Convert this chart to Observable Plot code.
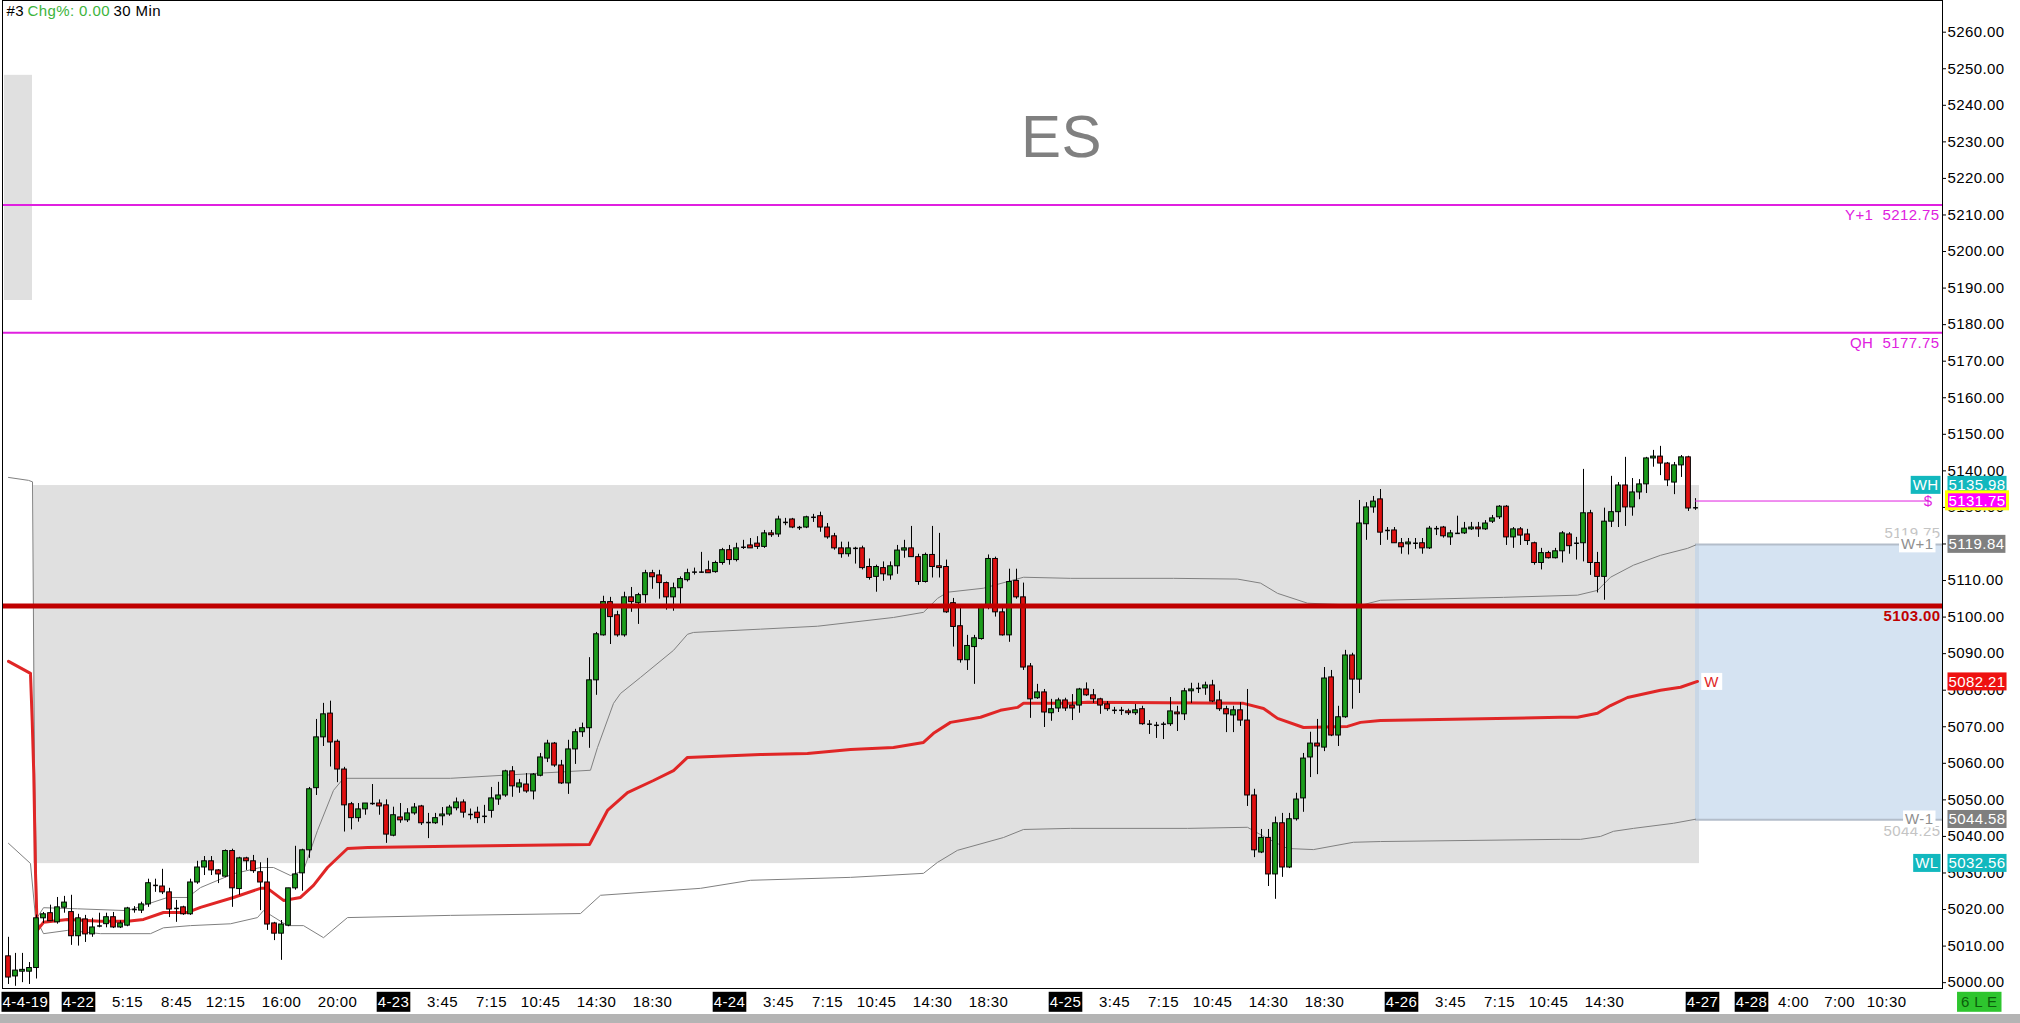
<!DOCTYPE html>
<html>
<head>
<meta charset="utf-8">
<script src="https://cdn.jsdelivr.net/npm/d3@7"></script>
<script src="https://cdn.jsdelivr.net/npm/@observablehq/plot@0.6"></script>
<style>
html, body { margin:0; padding:0; background:#fff; overflow:hidden; }
#chart svg { display:block; }
#chart svg text { letter-spacing: 0.4px; }
</style>
</head>
<body>
<div id="chart"></div>
<script>
// ---------------- DATA ----------------
const opens = [
5007.2,5001.7,5003.0,5003.0,5004.0,5017.6,5019.0,5016.5,5020.5,5019.3,
5012.7,5017.3,5013.2,5015.5,5016.0,5017.9,5015.1,5015.6,5020.0,5019.7,
5021.4,5026.6,5026.3,5024.7,5020.3,5020.6,5018.7,5027.4,5031.5,5033.2,
5030.7,5029.0,5036.0,5025.6,5034.0,5033.2,5030.2,5027.4,5016.2,5013.4,
5015.6,5025.8,5029.9,5036.2,5053.2,5067.1,5073.6,5065.9,5058.3,5048.8,
5045.0,5047.4,5049.0,5049.0,5048.5,5040.2,5045.2,5044.4,5046.3,5048.2,
5043.8,5043.6,5045.5,5046.0,5047.7,5049.3,5046.0,5046.5,5045.5,5047.0,
5050.1,5051.2,5057.8,5053.4,5054.2,5052.3,5056.6,5061.3,5065.4,5059.4,
5054.5,5063.8,5068.5,5069.6,5082.7,5095.0,5104.1,5100.5,5095.0,5105.4,
5103.8,5106.0,5112.0,5111.4,5109.3,5105.4,5107.9,5110.1,5112.3,5112.3,
5112.8,5112.3,5114.8,5118.3,5115.6,5118.8,5119.6,5120.1,5119.2,5122.9,
5122.6,5125.9,5126.7,5124.5,5124.5,5127.3,5127.6,5124.5,5122.1,5118.8,
5117.2,5118.8,5118.8,5113.7,5111.0,5113.4,5111.4,5113.9,5118.2,5118.8,
5116.4,5109.6,5117.0,5113.9,5113.7,5103.8,5097.5,5088.2,5091.8,5094.0,
5102.7,5115.9,5101.3,5095.0,5109.9,5105.4,5086.5,5077.8,5079.4,5073.7,
5075.0,5077.2,5075.8,5075.8,5080.2,5078.6,5077.5,5076.1,5074.5,5074.5,
5074.2,5073.7,5074.8,5070.7,5070.4,5070.7,5070.7,5073.9,5073.4,5079.7,
5080.5,5080.5,5081.3,5077.2,5074.8,5073.1,5074.5,5071.7,5051.2,5035.6,
5039.6,5029.6,5043.6,5031.5,5044.7,5050.4,5061.6,5065.4,5064.3,5083.5,
5067.6,5072.6,5089.5,5082.9,5125.4,5130.0,5132.2,5123.7,5123.7,5120.2,
5119.9,5120.2,5120.2,5118.8,5124.2,5124.5,5121.8,5123.1,5122.9,5124.0,
5124.5,5124.0,5126.1,5127.3,5130.2,5121.8,5124.0,5122.6,5120.2,5114.8,
5117.5,5116.1,5118.0,5122.6,5120.2,5120.2,5128.4,5114.8,5111.0,5126.1,
5128.7,5136.0,5130.0,5134.1,5136.3,5143.4,5143.9,5142.0,5136.8,5141.5,
5143.7,5129.7];
const highs = [
5012.4,5008.0,5008.0,5005.5,5018.5,5019.2,5021.2,5023.3,5023.6,5023.9,
5018.7,5018.4,5017.6,5019.0,5019.0,5019.2,5016.9,5020.6,5020.8,5022.0,
5028.3,5028.3,5031.0,5025.8,5022.5,5020.9,5028.3,5033.2,5034.5,5034.5,
5030.9,5036.3,5036.5,5034.3,5034.3,5034.8,5032.8,5034.0,5016.5,5017.0,
5025.8,5037.3,5036.5,5053.4,5072.0,5076.4,5077.0,5066.4,5058.9,5049.3,
5049.0,5049.0,5054.2,5050.0,5050.0,5048.0,5049.0,5047.6,5049.0,5048.5,
5046.3,5046.3,5047.9,5048.5,5050.5,5050.0,5047.5,5048.0,5048.5,5053.4,
5054.8,5058.1,5059.1,5055.6,5057.2,5057.2,5062.7,5066.3,5065.7,5060.8,
5066.3,5069.3,5071.0,5088.9,5095.8,5105.7,5105.4,5101.6,5106.8,5108.1,
5106.5,5112.8,5112.8,5112.8,5109.6,5109.3,5111.0,5113.1,5113.4,5117.7,
5115.3,5115.3,5118.8,5119.6,5120.2,5121.0,5121.5,5122.0,5123.7,5123.7,
5127.6,5127.0,5127.0,5124.8,5127.6,5128.1,5128.7,5125.6,5122.9,5120.5,
5120.5,5119.1,5119.4,5115.9,5114.2,5115.1,5115.1,5119.6,5121.0,5124.8,
5117.2,5117.5,5124.8,5122.9,5115.6,5105.1,5102.4,5095.0,5095.0,5102.9,
5117.0,5116.4,5102.7,5113.1,5113.1,5109.3,5087.3,5081.6,5080.2,5077.5,
5077.8,5077.8,5078.8,5080.5,5082.0,5080.2,5077.8,5076.9,5075.3,5075.3,
5074.8,5076.1,5075.6,5071.7,5071.2,5071.2,5078.0,5075.6,5080.5,5081.9,
5081.9,5082.2,5082.7,5079.7,5075.6,5075.6,5076.6,5080.2,5052.9,5041.9,
5041.9,5045.3,5046.3,5046.3,5051.8,5062.7,5068.5,5072.0,5086.2,5085.4,
5075.6,5090.9,5090.1,5131.9,5131.3,5133.0,5134.9,5124.5,5124.5,5121.5,
5121.5,5121.5,5121.5,5124.8,5124.8,5124.8,5123.7,5127.6,5125.9,5125.9,
5125.9,5126.4,5127.8,5130.5,5130.5,5124.5,5124.5,5124.0,5120.5,5118.8,
5118.0,5118.8,5123.4,5123.1,5121.8,5140.4,5129.2,5117.7,5129.8,5138.5,
5136.8,5143.7,5137.9,5137.6,5143.7,5145.6,5146.7,5142.3,5142.3,5144.2,
5144.0,5132.4];
const lows = [
4999.5,4999.0,5000.0,4999.5,5001.0,5016.2,5016.7,5016.0,5019.0,5010.2,
5010.0,5011.0,5012.4,5015.0,5015.0,5014.8,5014.8,5015.3,5019.0,5018.9,
5020.6,5024.7,5024.1,5017.8,5016.5,5018.4,5018.4,5026.9,5029.3,5029.3,
5027.1,5028.7,5020.6,5023.9,5030.7,5029.9,5019.7,5014.3,5011.5,5006.1,
5015.3,5025.3,5025.0,5034.0,5051.2,5064.6,5059.0,5054.7,5041.2,5041.8,
5043.9,5045.8,5048.5,5045.8,5038.1,5039.9,5043.6,5043.8,5045.8,5043.0,
5039.4,5043.3,5042.9,5045.5,5047.0,5045.0,5044.5,5043.5,5043.5,5045.0,
5048.5,5050.7,5050.7,5051.8,5051.8,5050.0,5056.3,5060.2,5058.9,5054.2,
5051.5,5059.7,5067.1,5064.1,5078.6,5094.8,5092.5,5094.5,5094.5,5101.3,
5098.0,5103.8,5107.6,5104.9,5101.9,5101.6,5103.5,5109.6,5111.5,5112.0,
5112.0,5112.0,5114.2,5114.2,5115.1,5118.5,5118.8,5118.5,5118.8,5121.8,
5121.8,5125.0,5124.2,5123.7,5124.2,5125.9,5123.2,5121.3,5118.3,5116.1,
5116.4,5114.5,5112.9,5110.1,5106.8,5109.8,5110.1,5111.7,5116.1,5116.4,
5108.7,5109.3,5110.7,5110.7,5101.0,5091.8,5087.4,5085.4,5081.6,5093.7,
5102.0,5100.0,5094.8,5093.1,5104.9,5085.4,5072.3,5077.5,5069.8,5071.5,
5073.9,5074.2,5071.7,5073.7,5078.3,5076.4,5073.4,5074.2,5073.4,5073.1,
5073.1,5073.1,5070.4,5067.9,5066.8,5066.5,5070.1,5068.7,5071.7,5076.4,
5079.1,5078.6,5076.6,5074.2,5068.4,5068.4,5070.1,5048.2,5034.2,5035.3,
5026.3,5022.8,5028.8,5031.2,5044.2,5046.6,5056.1,5056.9,5063.2,5067.3,
5064.6,5072.3,5074.8,5079.1,5121.0,5128.4,5119.6,5121.0,5120.2,5117.2,
5117.0,5118.5,5117.2,5118.5,5122.3,5121.6,5119.6,5122.6,5122.6,5123.7,
5121.8,5123.7,5125.6,5126.7,5119.6,5118.8,5119.6,5119.6,5114.2,5112.9,
5115.9,5115.9,5114.8,5117.2,5115.6,5115.1,5111.4,5106.6,5104.6,5124.5,
5124.5,5124.8,5127.6,5132.1,5133.8,5141.0,5138.7,5135.7,5133.5,5138.2,
5128.9,5129.2];
const closes = [
5001.4,5003.3,5003.5,5004.0,5017.6,5018.7,5016.8,5020.6,5021.9,5012.7,
5017.6,5013.2,5015.1,5015.5,5017.9,5015.1,5016.2,5020.3,5020.0,5021.4,
5027.2,5026.6,5024.7,5020.0,5020.3,5018.7,5027.4,5031.5,5033.2,5030.7,
5029.6,5036.0,5025.8,5034.0,5033.2,5030.5,5027.4,5015.9,5013.4,5015.9,
5025.8,5029.6,5036.2,5052.9,5067.1,5073.4,5065.7,5058.3,5048.5,5045.0,
5047.4,5049.0,5049.0,5048.2,5040.5,5045.8,5044.4,5046.3,5047.9,5043.6,
5043.8,5045.0,5046.0,5047.9,5049.3,5046.5,5046.0,5045.0,5045.5,5050.4,
5051.2,5057.8,5053.7,5054.5,5052.3,5056.9,5061.6,5065.4,5059.4,5054.5,
5063.8,5068.5,5069.6,5082.7,5095.3,5104.1,5100.0,5095.0,5105.4,5104.1,
5106.0,5112.0,5110.9,5109.3,5105.4,5107.9,5110.4,5112.0,5112.3,5112.3,
5112.0,5114.8,5118.3,5115.6,5118.8,5119.1,5118.8,5119.2,5122.9,5122.4,
5126.7,5125.9,5124.5,5124.5,5127.3,5127.3,5124.5,5121.8,5118.8,5117.2,
5118.8,5118.8,5113.4,5110.7,5113.7,5111.7,5113.9,5118.2,5118.8,5116.4,
5109.6,5117.0,5113.7,5113.4,5101.3,5097.3,5088.2,5092.1,5094.2,5102.7,
5115.9,5101.3,5095.0,5109.6,5105.4,5086.2,5077.5,5079.4,5073.9,5074.8,
5077.2,5075.0,5075.0,5080.2,5078.6,5077.5,5075.8,5074.8,5074.5,5074.5,
5073.7,5074.5,5070.7,5070.7,5070.4,5070.7,5074.2,5073.4,5079.7,5080.2,
5080.5,5081.3,5076.9,5074.8,5073.4,5074.5,5071.7,5051.2,5036.2,5039.6,
5029.6,5043.6,5031.5,5044.7,5050.1,5061.3,5065.4,5064.6,5083.2,5067.6,
5072.6,5089.5,5082.9,5125.6,5130.0,5131.6,5123.1,5123.7,5120.2,5119.1,
5120.4,5120.2,5118.8,5124.2,5124.2,5122.1,5122.9,5122.9,5124.2,5124.5,
5124.0,5125.6,5127.0,5130.2,5121.8,5124.0,5122.3,5120.8,5114.8,5117.5,
5116.1,5118.0,5122.9,5119.4,5120.2,5128.4,5114.8,5111.0,5126.1,5128.7,
5136.0,5130.0,5134.1,5136.3,5143.4,5143.9,5142.0,5137.4,5141.5,5143.7,
5129.7,5129.9];

// VWAP and its bands (bar index, price)
const vwapIdx = [0,3.14,3.39,3.61,3.86,4.1,5,8.43,13.14,17,19.29,22.14,25.57,27.43,32.14,36,37,39.29,41.71,43.57,45.57,48.43,51.29,63.14,83,85.57,88.43,92.14,95,97,107.43,114.14,120.29,126.43,130.71,132.14,134.57,138.86,141.71,144.14,145,151.71,154.14,176.43,179.29,181.29,185,191.29,193.14,196,221.71,224.14,227,228.86,231.29,236,238.86,241.29];
const vwapVal = [5087.9,5084.6,5071.4,5057.2,5029.9,5014.3,5016.5,5017.3,5016.8,5016.8,5017.3,5019.2,5019.2,5020.6,5023.3,5025.8,5025.8,5022.5,5023.3,5026.6,5031.5,5036.7,5037.0,5037.3,5037.8,5047.1,5052.0,5055.3,5058.0,5061.6,5062.4,5062.7,5063.8,5064.3,5065.7,5068.2,5071.2,5072.6,5074.5,5075.3,5076.4,5076.4,5076.7,5076.4,5075.0,5072.3,5069.8,5070.1,5071.2,5071.7,5072.6,5072.6,5073.7,5075.8,5078.0,5080.0,5080.8,5082.4];
const upperIdx = [0,2.86,3.43,3.71,4.1,5,9.86,17,22.71,25.57,27.43,32.14,36,37.86,40.29,42.14,44.14,46.43,47.86,63.14,83.14,84.14,86.43,87.43,90.29,95,97,97.86,107.43,115.57,126.43,130.71,132.71,134.14,139.29,145,151.71,166.43,175.57,178.86,181.29,185.57,193.14,196,213.57,224.14,227,228.86,232.14,236,239.86,241];
const upperVal = [5138.2,5137.4,5137.0,5060.0,5017.8,5020.5,5020.2,5019.7,5023.3,5023.3,5026.0,5029.8,5031.5,5031.5,5029.3,5030.7,5041.6,5052.6,5055.9,5055.9,5058.1,5064.3,5076.4,5079.1,5083.5,5090.9,5095.3,5095.8,5096.7,5097.5,5099.9,5101.3,5105.1,5106.8,5107.9,5110.9,5110.6,5110.6,5110.4,5109.3,5106.5,5103.8,5103.2,5104.6,5105.4,5106.0,5107.3,5110.9,5114.2,5116.9,5118.8,5119.7];
const lowerIdx = [0,3.14,3.86,5,8.43,13.14,20.29,22.14,26,31.71,35.57,36.43,39.86,42.14,45,48.43,63.14,81.71,84.57,98.86,106,120.29,130.71,132.71,135.57,142.14,145,151.71,168.43,177,179.86,182.71,186.43,192.14,196,221.71,224.57,227.43,229.29,232.14,237.86,241];
const lowerVal = [5038.1,5032.6,5017.8,5013.4,5014.3,5013.4,5013.4,5015.0,5015.6,5016.1,5017.8,5019.7,5015.6,5015.6,5012.3,5017.8,5018.4,5018.9,5023.9,5025.8,5028.0,5028.8,5029.9,5032.9,5036.2,5039.7,5041.9,5042.2,5042.2,5042.5,5039.4,5036.7,5036.4,5038.4,5038.6,5039.2,5039.2,5040.0,5041.4,5042.2,5043.6,5044.7];

// price levels
const weekHigh = 5135.98, weekLow = 5032.56;
const wPlus1 = 5119.84, wMinus1 = 5044.58;
const vwapLast = 5082.21, lastPrice = 5131.75;
const yPlus1 = 5212.75, quarterHigh = 5177.75, keyLevel = 5103.00;
const prevRangeTop = 5248.2, prevRangeBottom = 5186.6;

// bar-index ranges
const weekStartIdx = 3.6, weekEndIdx = 241.57, lastIdx = 241, priceLineEndIdx = 274.3;
const prevRangeIdx = [-0.57, 3.43];

// x-axis tick labels (bar index of label centre)
const dateTickIdx = [10, 55, 103, 151, 199, 242, 249];
const dateTickLabels = ["4-22", "4-23", "4-24", "4-25", "4-26", "4-27", "4-28"];
const timeTickIdx = [17,24,31,39,47, 62,69,76,84,92, 110,117,124,132,140, 158,165,172,180,188, 206,213,220,228, 255,261.6,268.3];
const timeTickLabels = ["5:15","8:45","12:15","16:00","20:00","3:45","7:15","10:45","14:30","18:30","3:45","7:15","10:45","14:30","18:30","3:45","7:15","10:45","14:30","18:30","3:45","7:15","10:45","14:30","4:00","7:00","10:30"];
const firstDateLabel = "4-4-19";
const yTicks = d3.range(5000, 5261, 10);

// ---------------- BUILD ----------------
const candles = opens.map((o, i) => ({i, o, h: highs[i], l: lows[i], c: closes[i]}));
const bodies = candles.filter(d => Math.abs(d.c - d.o) >= 0.35);
const dojis = candles.filter(d => Math.abs(d.c - d.o) < 0.35);
const HW = 0.34;
const GREEN = "#1c9c1c", RED = "#e01010", MAG = "#e020e0", DARKRED = "#c00000", TEAL = "#12b8be";
const FONT = "'Liberation Sans', Arial, sans-serif";
const tag = (name) => ({className: name, ariaDescription: name});

const chart = Plot.plot({
  width: 2020, height: 1023,
  marginTop: 0, marginBottom: 35, marginLeft: 2, marginRight: 78,
  style: {fontFamily: FONT, fontSize: "15px", background: "#fff", color: "#000"},
  x: {domain: [-6/7, 1934/7], axis: null},
  y: {domain: [4998.4, 5268.67], axis: "right", ticks: yTicks, tickFormat: d => d.toFixed(2),
      tickSize: 3, tickPadding: 2, label: null},
  marks: [
    Plot.rect([0], {x1: () => prevRangeIdx[0], x2: () => prevRangeIdx[1], y1: () => prevRangeBottom, y2: () => prevRangeTop, fill: "#e0e0e0"}),
    Plot.rect([0], {x1: () => weekStartIdx, x2: () => weekEndIdx, y1: () => weekLow, y2: () => weekHigh, fill: "#e0e0e0"}),
    Plot.rect([0], {x1: () => lastIdx, x2: () => 1934/7, y1: () => wMinus1, y2: () => wPlus1, fill: "#b9d0e9", fillOpacity: 0.6}),
    Plot.ruleY([wPlus1, wMinus1], {x1: lastIdx, x2: 1934/7, stroke: "#b3bdca", strokeWidth: 2}),
    Plot.ruleY([yPlus1, quarterHigh], {stroke: MAG, strokeWidth: 2}),
    Plot.line(upperVal, {x: upperIdx, y: upperVal, stroke: "#808080", strokeWidth: 1}),
    Plot.line(lowerVal, {x: lowerIdx, y: lowerVal, stroke: "#808080", strokeWidth: 1}),
    Plot.line(vwapVal, {x: vwapIdx, y: vwapVal, stroke: "#e02626", strokeWidth: 3, strokeLinejoin: "round"}),
    Plot.ruleX(candles, {x: "i", y1: "l", y2: "h", stroke: "#000", strokeWidth: 1}),
    Plot.rect(bodies, {x1: d => d.i - HW, x2: d => d.i + HW, y1: "o", y2: "c",
      fill: d => d.c > d.o ? GREEN : RED, stroke: "#000", strokeWidth: 1}),
    Plot.link(dojis, {x1: d => d.i - HW, x2: d => d.i + HW, y1: "c", y2: "c", stroke: "#000", strokeWidth: 1.5}),
    Plot.ruleY([keyLevel], {stroke: DARKRED, strokeWidth: 5}),
    Plot.ruleY([lastPrice], {x1: lastIdx, x2: priceLineEndIdx, stroke: MAG, strokeWidth: 1}),
    Plot.frame({stroke: "#000", strokeWidth: 1}),

    // header & title
    Plot.text(["#3"], {frameAnchor: "top-left", dx: 4, dy: 11, lineAnchor: "middle", textAnchor: "start", fill: "#000", fontSize: 15}),
    Plot.text(["Chg%: 0.00"], {frameAnchor: "top-left", dx: 25, dy: 11, lineAnchor: "middle", textAnchor: "start", fill: "#3cb43c", fontSize: 15}),
    Plot.text(["30 Min"], {frameAnchor: "top-left", dx: 111, dy: 11, lineAnchor: "middle", textAnchor: "start", fill: "#000", fontSize: 15}),
    Plot.text(["ES"], {frameAnchor: "top", dx: 89, dy: 137, lineAnchor: "middle", fill: "#808080", fontSize: 60,
      fontFamily: "'Liberation Sans Narrow', 'Liberation Sans', Arial, sans-serif"}),

    // level labels left of the price axis
    Plot.text([yPlus1], {y: d => d, text: d => "Y+1\u00a0\u00a0" + d.toFixed(2), frameAnchor: "right", dx: -3, dy: 10, textAnchor: "end", fill: MAG, fontSize: 15}),
    Plot.text([quarterHigh], {y: d => d, text: d => "QH\u00a0\u00a0" + d.toFixed(2), frameAnchor: "right", dx: -3, dy: 10, textAnchor: "end", fill: MAG, fontSize: 15}),
    Plot.text([keyLevel], {y: d => d, text: d => d.toFixed(2), frameAnchor: "right", dx: -2, dy: 10, textAnchor: "end", fill: DARKRED, fontWeight: "bold", fontSize: 15}),
    Plot.text([5119.75], {y: () => wPlus1, text: d => d.toFixed(2), frameAnchor: "right", dx: -2, dy: -11, textAnchor: "end", fill: "#c4c4c4", fontSize: 15}),
    Plot.text([5044.25], {y: () => wMinus1, text: d => d.toFixed(2), frameAnchor: "right", dx: -2, dy: 12, textAnchor: "end", fill: "#c4c4c4", fontSize: 15}),
    Plot.text(["W+1"], {y: () => wPlus1, frameAnchor: "right", dx: -9, textAnchor: "end", fill: "#909090", fontSize: 15, ...tag("bxwhite")}),
    Plot.text(["W-1"], {y: () => wMinus1, frameAnchor: "right", dx: -9, textAnchor: "end", fill: "#909090", fontSize: 15, ...tag("bxwhite")}),
    Plot.text(["WH"], {y: () => weekHigh, frameAnchor: "right", dx: -4, textAnchor: "end", fill: "#fff", fontSize: 15, ...tag("bxteall")}),
    Plot.text(["WL"], {y: () => weekLow, frameAnchor: "right", dx: -4, textAnchor: "end", fill: "#fff", fontSize: 15, ...tag("bxteall")}),
    Plot.text(["$"], {y: () => lastPrice, frameAnchor: "right", dx: -10, fill: MAG, fontSize: 15}),
    Plot.text(["W"], {x: () => lastIdx, y: () => vwapLast, dx: 16, fill: "#e02626", fontSize: 15, ...tag("bxwhitew")}),

    // value boxes on the price axis
    Plot.text([weekHigh, weekLow], {y: d => d, text: d => d.toFixed(2), frameAnchor: "right", dx: 6, textAnchor: "start", fill: "#fff", fontSize: 15, ...tag("bxteal")}),
    Plot.text([wPlus1, wMinus1], {y: d => d, text: d => d.toFixed(2), frameAnchor: "right", dx: 6, textAnchor: "start", fill: "#fff", fontSize: 15, ...tag("bxgray")}),
    Plot.text([vwapLast], {y: d => d, text: d => d.toFixed(2), frameAnchor: "right", dx: 6, textAnchor: "start", fill: "#fff", fontSize: 15, ...tag("bxred")}),
    Plot.text([lastPrice], {y: d => d, text: d => d.toFixed(2), frameAnchor: "right", dx: 6, textAnchor: "start", fill: "#fff", fontSize: 15, ...tag("bxmag")}),

    // x axis labels
    Plot.text(timeTickLabels, {x: timeTickIdx, text: timeTickLabels, frameAnchor: "bottom", dy: 14, lineAnchor: "middle", fill: "#000", fontSize: 15}),
    Plot.text(dateTickLabels, {x: dateTickIdx, text: dateTickLabels, frameAnchor: "bottom", dy: 14, lineAnchor: "middle", fill: "#fff", fontSize: 15, ...tag("bxblack")}),
    Plot.text([firstDateLabel], {frameAnchor: "bottom-left", dx: 0, dy: 14, lineAnchor: "middle", textAnchor: "start", fill: "#fff", fontSize: 15, ...tag("bxblack")}),
    Plot.text(["6 L E"], {frameAnchor: "bottom-right", dx: 55, dy: 14, lineAnchor: "middle", fill: "#0b5e0b", fontSize: 15, ...tag("bxgreen")})
  ]
});
document.getElementById("chart").append(chart);

// put rectangular backgrounds behind labelled texts
function boxify(svg, name, fill, o = {}) {
  const px = o.px ?? 2, py = o.py ?? 1;
  const groups = svg.querySelectorAll(`g.${name}, g[aria-description="${name}"]`);
  const seen = new Set();
  groups.forEach(g => {
    if (seen.has(g)) return; seen.add(g);
    g.querySelectorAll("text").forEach(t => {
      const b = t.getBBox();
      const r = document.createElementNS("http://www.w3.org/2000/svg", "rect");
      r.setAttribute("x", b.x - px);
      r.setAttribute("y", b.y - py);
      r.setAttribute("width", b.width + 2 * px);
      r.setAttribute("height", b.height + 2 * py);
      r.setAttribute("fill", fill);
      if (o.stroke) { r.setAttribute("stroke", o.stroke); r.setAttribute("stroke-width", o.sw || 1); }
      const tr = t.getAttribute("transform"); if (tr) r.setAttribute("transform", tr);
      t.parentNode.insertBefore(r, t);
    });
  });
}
boxify(chart, "bxwhite", "#fff", {px: 2, py: 0});
boxify(chart, "bxwhitew", "#fff", {px: 3, py: 0});
boxify(chart, "bxteall", TEAL, {px: 2, py: 0.5});
boxify(chart, "bxteal", TEAL, {px: 1, py: 0.5});
boxify(chart, "bxgray", "#7f7f7f", {px: 1, py: 0.5});
boxify(chart, "bxred", "#ee1111", {px: 1, py: 0.5});
boxify(chart, "bxmag", "#ff00ff", {px: 2, py: 0, stroke: "#ffff00", sw: 3});
boxify(chart, "bxblack", "#000", {px: 1, py: 1.5});
boxify(chart, "bxgreen", "#2ec52e", {px: 4, py: 1.5});

// window bottom strip
const ns = "http://www.w3.org/2000/svg";
const strip = document.createElementNS(ns, "rect");
strip.setAttribute("x", 0); strip.setAttribute("y", 1014); strip.setAttribute("width", 2020); strip.setAttribute("height", 9);
strip.setAttribute("fill", "#b4b4b4");
chart.appendChild(strip);
</script>
</body>
</html>
